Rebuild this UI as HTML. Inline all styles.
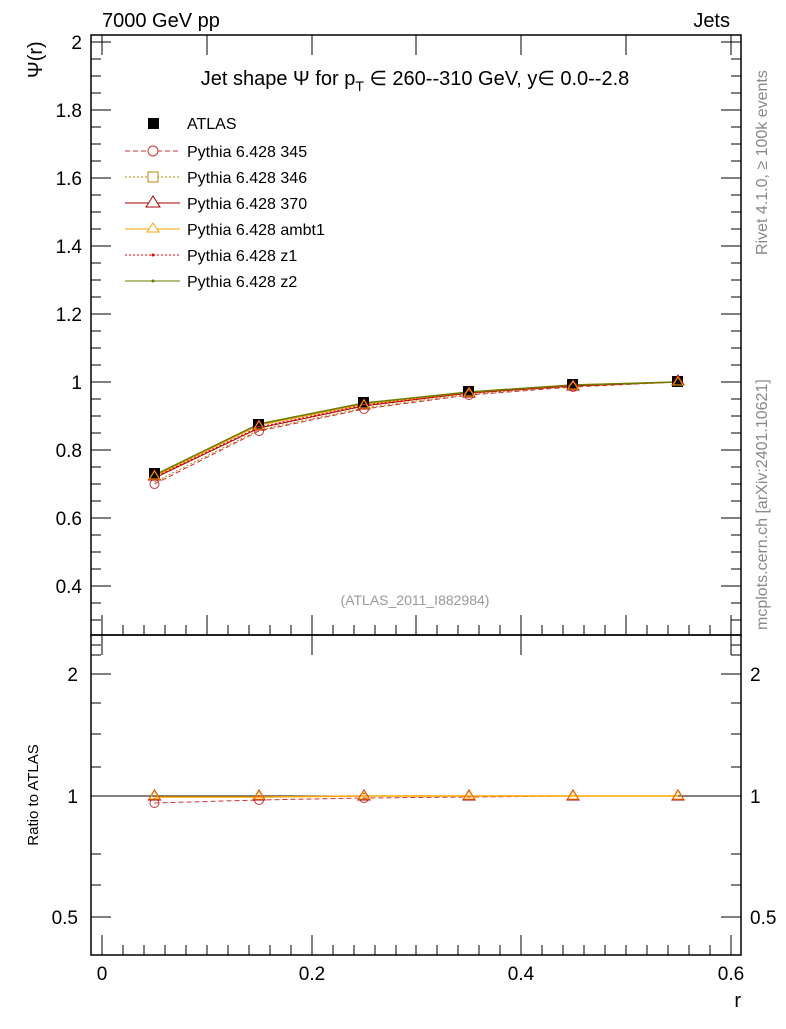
<!DOCTYPE html>
<html><head><meta charset="utf-8"><style>
body{margin:0;background:#fff}
text{font-family:"Liberation Sans",sans-serif}
</style></head><body>
<svg width="786" height="1024" viewBox="0 0 786 1024" xmlns="http://www.w3.org/2000/svg">
<rect width="786" height="1024" fill="#fff"/>
<text x="102" y="27" font-size="20">7000 GeV pp</text>
<text x="730" y="27" font-size="20" text-anchor="end">Jets</text>
<text x="767" y="255" font-size="16" fill="#888" transform="rotate(-90 767 255)">Rivet 4.1.0, ≥ 100k events</text>
<text x="767" y="630" font-size="16" fill="#888" transform="rotate(-90 767 630)">mcplots.cern.ch [arXiv:2401.10621]</text>
<rect x="91" y="35" width="650" height="600" fill="none" stroke="#000" stroke-width="1.5"/>
<rect x="91" y="635" width="650" height="320" fill="none" stroke="#000" stroke-width="1.5"/>
<text x="415" y="85" font-size="20" text-anchor="middle">Jet shape Ψ for p<tspan font-size="14" dy="6">T</tspan><tspan dy="-6"> ∈ 260--310 GeV, y∈ 0.0--2.8</tspan></text>
<text x="415" y="605" font-size="14" fill="#999" text-anchor="middle">(ATLAS_2011_I882984)</text>
<text x="42" y="78" font-size="20" text-anchor="start" transform="rotate(-90 42 78)">Ψ(r)</text>
<text x="38" y="795" font-size="15" text-anchor="middle" transform="rotate(-90 38 795)">Ratio to ATLAS</text>
<text x="741" y="1007" font-size="20" text-anchor="end">r</text>
<g font-size="19" text-anchor="end">
<text x="82" y="49">2</text><text x="82" y="117">1.8</text><text x="82" y="185">1.6</text><text x="82" y="253">1.4</text><text x="82" y="321">1.2</text><text x="82" y="389">1</text><text x="82" y="457">0.8</text><text x="82" y="525">0.6</text><text x="82" y="593">0.4</text>
<text x="78" y="681">2</text><text x="78" y="803">1</text><text x="78" y="924">0.5</text>
</g>
<g font-size="19" text-anchor="start">
<text x="750" y="681">2</text><text x="750" y="803">1</text><text x="750" y="924">0.5</text>
</g>
<g font-size="19" text-anchor="middle">
<text x="102" y="980">0</text><text x="312" y="980">0.2</text><text x="521" y="980">0.4</text><text x="731" y="980">0.6</text>
</g>
<g stroke="#000" stroke-width="1">
<path d="M91 42h20M91 110h20M91 178h20M91 246h20M91 314h20M91 382h20M91 450h20M91 518h20M91 586h20M741 42h-20M741 110h-20M741 178h-20M741 246h-20M741 314h-20M741 382h-20M741 450h-20M741 518h-20M741 586h-20"/>
<path d="M91 59h10M91 76h10M91 93h10M91 127h10M91 144h10M91 161h10M91 195h10M91 212h10M91 229h10M91 263h10M91 280h10M91 297h10M91 331h10M91 348h10M91 365h10M91 399h10M91 416h10M91 433h10M91 467h10M91 484h10M91 501h10M91 535h10M91 552h10M91 569h10M91 603h10M91 620h10"/>
<path d="M741 59h-10M741 76h-10M741 93h-10M741 127h-10M741 144h-10M741 161h-10M741 195h-10M741 212h-10M741 229h-10M741 263h-10M741 280h-10M741 297h-10M741 331h-10M741 348h-10M741 365h-10M741 399h-10M741 416h-10M741 433h-10M741 467h-10M741 484h-10M741 501h-10M741 535h-10M741 552h-10M741 569h-10M741 603h-10M741 620h-10"/>
<path d="M91 674h20M91 796h20M91 917h20M741 674h-20M741 796h-20M741 917h-20"/>
<path d="M91 645h10M91 655h10M91 703h10M91 734h10M91 767h10M91 854h10M91 885h10M741 645h-10M741 655h-10M741 703h-10M741 734h-10M741 767h-10M741 854h-10M741 885h-10"/>
<path d="M102 635v-20M207 635v-20M312 635v-20M416 635v-20M521 635v-20M626 635v-20M731 635v-20M102 35v20M207 35v20M312 35v20M416 35v20M521 35v20M626 35v20M731 35v20"/>
<path d="M102 955v-20M207 955v-10M312 955v-20M416 955v-10M521 955v-20M626 955v-10M731 955v-20M102 635v20M312 635v20M521 635v20M731 635v20"/>
<path d="M123 635v-10M144 635v-10M165 635v-10M186 635v-10M228 635v-10M249 635v-10M270 635v-10M291 635v-10M333 635v-10M354 635v-10M375 635v-10M396 635v-10M437 635v-10M458 635v-10M479 635v-10M500 635v-10M542 635v-10M563 635v-10M584 635v-10M605 635v-10M647 635v-10M668 635v-10M689 635v-10M710 635v-10"/>
<path d="M123 955v-10M144 955v-10M165 955v-10M186 955v-10M228 955v-10M249 955v-10M270 955v-10M291 955v-10M333 955v-10M354 955v-10M375 955v-10M396 955v-10M437 955v-10M458 955v-10M479 955v-10M500 955v-10M542 955v-10M563 955v-10M584 955v-10M605 955v-10M647 955v-10M668 955v-10M689 955v-10M710 955v-10"/>
</g>
<line x1="91" y1="796" x2="741" y2="796" stroke="#000"/>
<polyline points="154.5,484 259,431 364,409 469,395 573,387 678,382" fill="none" stroke="#c33" stroke-dasharray="5,3"/>
<polyline points="154.5,482 259,430 364,408 469,394 573,386 678,382" fill="none" stroke="#b8860b" stroke-dasharray="2,2"/>
<polyline points="154.5,478 259,428 364,406 469,393 573,386 678,382" fill="none" stroke="#a00"/>
<polyline points="154.5,476 259,425 364,404 469,392 573,385 678,382" fill="none" stroke="#ffa500" stroke-width="1.5"/>
<polyline points="154.5,477 259,427 364,405 469,393 573,386 678,382" fill="none" stroke="#e00" stroke-dasharray="2,2"/>
<polyline points="154.5,475 259,424 364,403 469,392 573,385 678,382" fill="none" stroke="#6b7a00" stroke-width="1.5"/>
<g fill="#000"><rect x="149" y="468" width="11" height="11"/><rect x="253" y="419" width="11" height="11"/><rect x="358" y="397" width="11" height="11"/><rect x="463" y="386" width="11" height="11"/><rect x="567" y="379" width="11" height="11"/><rect x="672" y="376" width="11" height="11"/></g>
<g fill="none" stroke="#c33"><circle cx="154.5" cy="484" r="4.5"/><circle cx="259" cy="431" r="4.5"/><circle cx="364" cy="409" r="4.5"/><circle cx="469" cy="395" r="4.5"/><circle cx="573" cy="387" r="4.5"/></g>
<g fill="none" stroke="#a00"><path d="M154.5 470l6 10h-12z M259 420l6 10h-12z M364 399l6 10h-12z M469 387l6 10h-12z M573 380l6 10h-12z M678 375l6 10h-12z"/></g>
<g fill="none" stroke="#ffa500"><path d="M154.5 471l5 8h-10z M259 421l5 8h-10z M364 400l5 8h-10z M469 388l5 8h-10z M573 381l5 8h-10z M678 377l5 8h-10z"/></g>
<polyline points="154.5,803 259,800 364,798 469,797 573,796 678,796" fill="none" stroke="#c33" stroke-dasharray="5,3"/>
<polyline points="154.5,797 259,797 364,796 469,796 573,796 678,796" fill="none" stroke="#ffa500" stroke-width="1.5"/>
<g fill="none" stroke="#c33"><circle cx="154.5" cy="803" r="4.5"/><circle cx="259" cy="800" r="4.5"/><circle cx="364" cy="798" r="4.5"/></g>
<g fill="none" stroke="#a00"><path d="M154.5 790l6 10h-12z M259 790l6 10h-12z M364 790l6 10h-12z M469 790l6 10h-12z M573 790l6 10h-12z M678 790l6 10h-12z"/></g>
<g fill="none" stroke="#ffa500"><path d="M154.5 791l5 8h-10z M259 791l5 8h-10z M364 791l5 8h-10z M469 791l5 8h-10z M573 791l5 8h-10z M678 791l5 8h-10z"/></g>
<g font-size="16">
<rect x="148" y="118" width="11" height="11" fill="#000"/><text x="187" y="129">ATLAS</text>
<line x1="125" y1="151" x2="180" y2="151" stroke="#c33" stroke-dasharray="5,3"/><circle cx="153" cy="151" r="5" fill="#fff" stroke="#c33"/><text x="187" y="157">Pythia 6.428 345</text>
<line x1="125" y1="177" x2="180" y2="177" stroke="#b8860b" stroke-dasharray="2,2"/><rect x="148" y="172" width="10" height="10" fill="#fff" stroke="#b8860b"/><text x="187" y="183">Pythia 6.428 346</text>
<line x1="125" y1="203" x2="180" y2="203" stroke="#a00"/><path d="M153 196l7 11h-14z" fill="#fff" stroke="#a00"/><text x="187" y="209">Pythia 6.428 370</text>
<line x1="125" y1="229" x2="180" y2="229" stroke="#ffa500"/><path d="M153 223l6 9h-12z" fill="#fff" stroke="#ffa500"/><text x="187" y="235">Pythia 6.428 ambt1</text>
<line x1="125" y1="255" x2="180" y2="255" stroke="#e00" stroke-dasharray="2,2"/><circle cx="153" cy="255" r="1.5" fill="#e00"/><text x="187" y="261">Pythia 6.428 z1</text>
<line x1="125" y1="281" x2="180" y2="281" stroke="#6b7a00"/><circle cx="153" cy="281" r="1.5" fill="#6b7a00"/><text x="187" y="287">Pythia 6.428 z2</text>
</g>
</svg>
</body></html>
